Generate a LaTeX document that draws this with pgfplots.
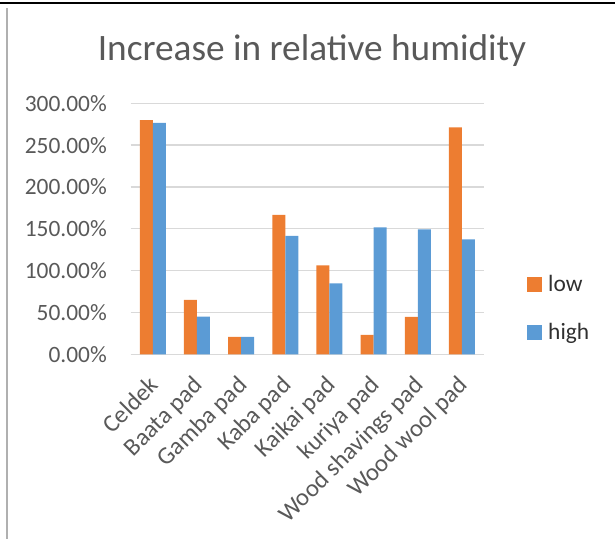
\documentclass[border=0pt]{standalone}
\usepackage{fontspec}
\setmainfont{Carlito}
\usepackage{pgfplots}
\pgfplotsset{compat=1.18}
\definecolor{lowc}{HTML}{ED7D31}
\definecolor{highc}{HTML}{5B9BD5}
\definecolor{gridc}{HTML}{D9D9D9}
\definecolor{txt}{HTML}{595959}
\definecolor{legtxt}{HTML}{303030}
\definecolor{frameg}{HTML}{B0B0B0}
\newcommand\ftick{\fontsize{23.4bp}{28bp}\selectfont}
\newcommand\fxlab{\fontsize{24.6bp}{29bp}\selectfont}
\newcommand\ftitle{\fontsize{37.3bp}{44bp}\selectfont}
\begin{document}
\begin{tikzpicture}
\path[use as bounding box] (0bp,0bp) rectangle (615bp,539bp);
\draw[line width=2.2bp, black] (0bp,536bp) -- (615bp,536bp);
\draw[line width=1.8bp, frameg] (6.8bp,0bp) -- (6.8bp,531bp);
\node[anchor=base, text=txt, font=\ftitle, inner sep=0pt] at (312bp,478bp) {Increase in relative humidity};
\begin{axis}[
  at={(130.7bp,184.7bp)}, anchor=south west,
  scale only axis, width=353.3bp, height=251bp,
  xmin=-0.5, xmax=7.5, ymin=0, ymax=300,
  ybar=0pt, bar width=13bp,
  axis x line*=bottom, axis y line*=left,
  x axis line style={gridc, line width=1.3bp, -},
  y axis line style={draw=none},
  ymajorgrids, grid style={gridc, line width=1.3bp},
  major tick length=0pt, tick style={draw=none},
  xtick={0,...,7},
  xticklabels={Celdek, Baata pad, Gamba pad, Kaba pad, Kaikai pad, kuriya pad, Wood shavings pad, Wood wool pad},
  xticklabel style={font=\fxlab, text=txt, inner sep=0pt, xshift=-5bp, rotate=45, anchor=north east},
  xticklabel shift=20bp,
  ytick={0,50,...,300},
  yticklabels={0.00\%,50.00\%,100.00\%,150.00\%,200.00\%,250.00\%,300.00\%},
  yticklabel style={font=\ftick, text=txt, inner sep=0pt, anchor=east, xshift=-23.7bp},
  legend style={at={(1.121,0.183)}, anchor=west, draw=none, fill=none, inner sep=0pt, outer sep=0pt,
    font=\ftick, text=legtxt, row sep=30bp, column sep=0pt, nodes={inner sep=0pt, outer sep=0pt}},
  legend cell align=left,
]
\addplot[fill=lowc, draw=none, legend image code/.code={\fill[lowc] (0bp,-7.5bp) rectangle (15bp,7.5bp); \path (21.5bp,0bp);}]
  coordinates {(0,280) (1,65) (2,20.7) (3,166.5) (4,106.4) (5,23.1) (6,44.6) (7,271.3)};
\addlegendentry{low}
\addplot[fill=highc, draw=none, legend image code/.code={\fill[highc] (0bp,-7.5bp) rectangle (15bp,7.5bp); \path (21.5bp,0bp);}]
  coordinates {(0,276.5) (1,45) (2,20.7) (3,141.4) (4,84.9) (5,151.8) (6,149.4) (7,137.4)};
\addlegendentry{high}
\end{axis}
\end{tikzpicture}
\end{document}
